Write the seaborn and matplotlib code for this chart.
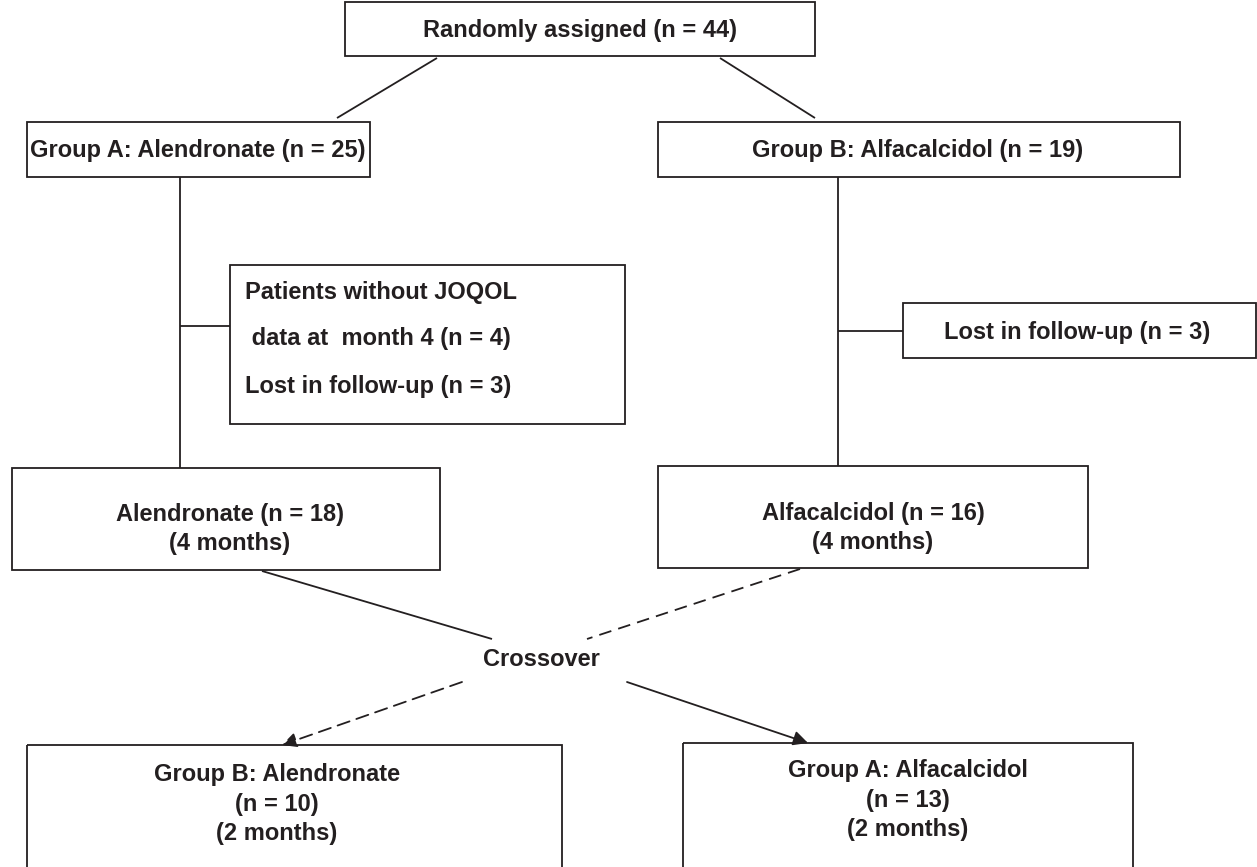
import matplotlib
matplotlib.use("Agg")
import matplotlib.pyplot as plt
import seaborn as sns
from matplotlib.patches import Rectangle

sns.set_style("white")
plt.rcParams["font.family"] = ["Liberation Sans", "DejaVu Sans"]

# ---------------------------------
# DATA (labels and counts)
# ---------------------------------

total_n = 44
group_labels = ["Group A: Alendronate", "Group B: Alfacalcidol"]
group_n = [25, 19]
missing_jqol_n = 4
lost_n = [3, 3]
first_period_labels = ["Alendronate", "Alfacalcidol"]
first_period_n = [18, 16]
first_months = 4
second_period_labels = ["Group B: Alendronate", "Group A: Alfacalcidol"]
second_period_n = [10, 13]
second_months = 2

# ---------------------------------
# LAYOUT (pixel coordinates, y down)
# ---------------------------------

W, H = 1257, 867
fig = plt.figure(figsize=(W / 100, H / 100), dpi=100)
ax = fig.add_axes([0, 0, 1, 1])
ax.set_xlim(0, W)
ax.set_ylim(H, 0)
ax.axis("off")

FS = 17
LW = 1.3


def box(x0, y0, x1, y1):
    ax.add_patch(Rectangle((x0, y0), x1 - x0, y1 - y0, fill=False,
                           edgecolor="#231f20", linewidth=LW))


def text(x, y, s, ha="center"):
    ax.text(x, y, s, ha=ha, va="center", fontsize=FS, fontweight="bold",
            color="#231f20", linespacing=1.35)


def line(x0, y0, x1, y1, ls="-"):
    ax.plot([x0, x1], [y0, y1], color="#231f20", linewidth=LW, linestyle=ls,
            dashes=(7, 4) if ls == "--" else (None, None), solid_capstyle="butt")


def arrow(x0, y0, x1, y1, dashed=False):
    ax.annotate("", xy=(x1, y1), xytext=(x0, y0),
                arrowprops=dict(arrowstyle="-|>", color="#231f20", lw=LW,
                                linestyle=(0, (7, 4)) if dashed else "-",
                                mutation_scale=22, shrinkA=0, shrinkB=0))


# top
box(345, 2, 815, 56)
text(580, 31, f"Randomly assigned (n = {total_n})")
line(437, 58, 337, 118)
line(720, 58, 815, 118)

# groups
box(27, 122, 370, 177)
text(198, 151, f"{group_labels[0]} (n = {group_n[0]})")
box(658, 122, 1180, 177)
text(918, 151, f"{group_labels[1]} (n = {group_n[1]})")

# left branch
line(180, 177, 180, 468)
line(180, 326, 230, 326)
box(230, 265, 625, 424)
text(245, 292, "Patients without JOQOL", ha="left")
text(245, 339, f" data at  month {first_months} (n = {missing_jqol_n})", ha="left")
text(245, 386, f"Lost in follow-up (n = {lost_n[0]})", ha="left")

# right branch
line(838, 177, 838, 466)
line(838, 331, 903, 331)
box(903, 303, 1256, 358)
text(1077, 332, f"Lost in follow-up (n = {lost_n[1]})")

# first period
box(12, 468, 440, 570)
text(230, 529, f"{first_period_labels[0]} (n = {first_period_n[0]})\n({first_months} months)")
box(658, 466, 1088, 568)
text(873, 528, f"{first_period_labels[1]} (n = {first_period_n[1]})\n({first_months} months)")

# crossover
line(262, 571, 492, 639)
line(800, 569, 587, 639, ls="--")
text(541, 659, "Crossover")
arrow(462, 682, 282, 745, dashed=True)
arrow(627, 682, 808, 743)

# second period
box(27, 745, 562, 900)
text(277, 804, f"{second_period_labels[0]}\n(n = {second_period_n[0]})\n({second_months} months)")
box(683, 743, 1133, 900)
text(908, 800, f"{second_period_labels[1]}\n(n = {second_period_n[1]})\n({second_months} months)")

fig.savefig("out.png", dpi=100, facecolor="white")
